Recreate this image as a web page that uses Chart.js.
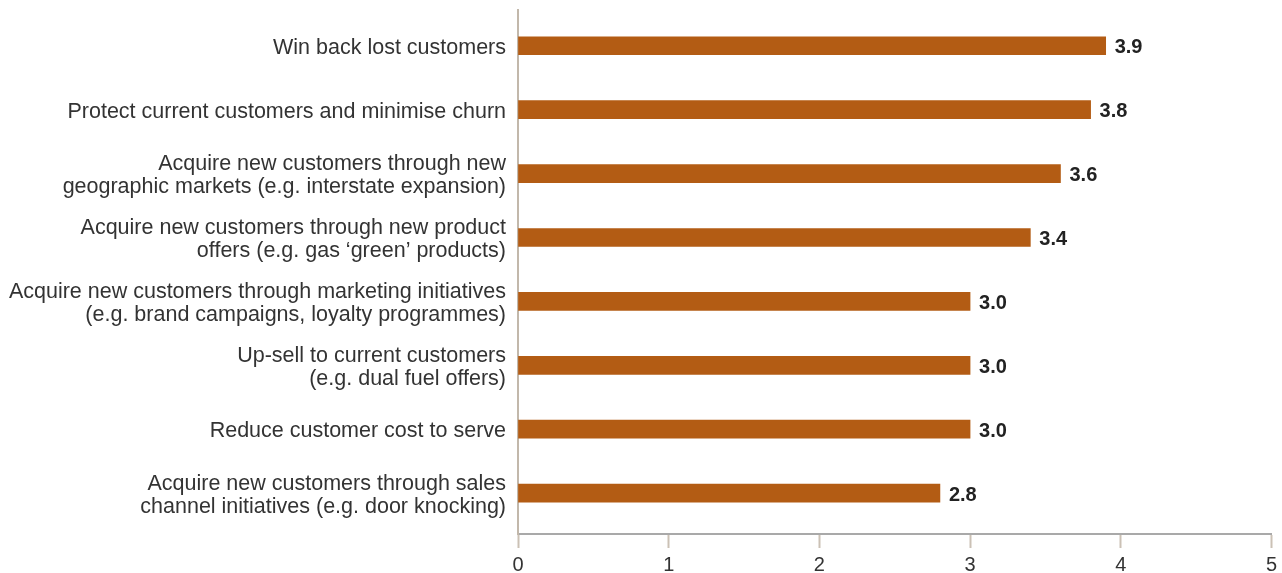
<!DOCTYPE html>
<html>
<head>
<meta charset="utf-8">
<script src="https://cdn.jsdelivr.net/npm/chart.js@4"></script>
<style>
  html, body { margin: 0; padding: 0; background: #fff; }
  #wrap { width: 1282px; height: 573px; position: relative; }
</style>
</head>
<body>
<div id="wrap"><canvas id="chart"></canvas></div>
<script>
// Libellés (multi-lignes) et valeurs
const categories = [
  ['Win back lost customers'],
  ['Protect current customers and minimise churn'],
  ['Acquire new customers through new', 'geographic markets (e.g. interstate expansion)'],
  ['Acquire new customers through new product', 'offers (e.g. gas \u2018green\u2019 products)'],
  ['Acquire new customers through marketing initiatives', '(e.g. brand campaigns, loyalty programmes)'],
  ['Up-sell to current customers', '(e.g. dual fuel offers)'],
  ['Reduce customer cost to serve'],
  ['Acquire new customers through sales', 'channel initiatives (e.g. door knocking)']
];
const scores = [3.9, 3.8, 3.6, 3.4, 3.0, 3.0, 3.0, 2.8];
const xTicks = [0, 1, 2, 3, 4, 5];

const FONT = '"Liberation Sans", Arial, Helvetica, sans-serif';

// Étiquettes de valeur au bout des barres
const valueLabels = {
  id: 'valueLabels',
  afterDatasetsDraw(chart) {
    const ctx = chart.ctx;
    const meta = chart.getDatasetMeta(0);
    ctx.save();
    ctx.font = 'bold 20px ' + FONT;
    ctx.fillStyle = '#222';
    ctx.textAlign = 'left';
    ctx.textBaseline = 'middle';
    meta.data.forEach((bar, i) => {
      ctx.fillText(scores[i].toFixed(1), bar.x + 9, bar.y + 2);
    });
    ctx.restore();
  }
};

new Chart(document.getElementById('chart'), {
  type: 'bar',
  data: {
    labels: categories,
    datasets: [{
      data: scores,
      backgroundColor: '#b35c14',
      barThickness: 18
    }]
  },
  options: {
    indexAxis: 'y',
    responsive: true,
    maintainAspectRatio: false,
    animation: false,
    layout: { padding: { top: 10, right: 10, left: 0, bottom: 0 } },
    plugins: { legend: { display: false }, tooltip: { enabled: false } },
    scales: {
      x: {
        type: 'linear',
        min: 0,
        max: 5,
        afterBuildTicks: s => { s.ticks = xTicks.map(v => ({ value: v })); },
        afterFit: s => { s.height = 39; },
        grid: { drawOnChartArea: false, tickLength: 14, color: '#cbc1b5', tickWidth: 2 },
        border: { color: '#a9a9a9', width: 2 },
        ticks: { color: '#333', font: { family: FONT, size: 20 }, padding: 5 }
      },
      y: {
        // un peu d'espace en plus sous la dernière barre, comme l'original
        afterBuildTicks: s => { s._startValue = -0.56; s._valueRange = 8.2; },
        afterFit: s => { s.width = 518; s.paddingTop = 0; s.paddingBottom = 0; },
        grid: { display: false, drawTicks: false },
        border: { color: '#c2b8ab', width: 2 },
        ticks: {
          color: '#333',
          padding: 12,
          labelOffset: 2,
          font: { family: FONT, size: 21.5, lineHeight: 1.07 }
        }
      }
    }
  },
  plugins: [valueLabels]
});
</script>
</body>
</html>
